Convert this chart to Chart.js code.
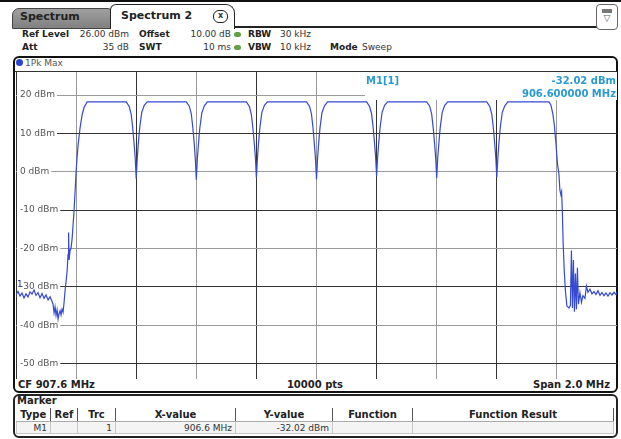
<!DOCTYPE html>
<html>
<head>
<meta charset="utf-8">
<script src="https://cdn.jsdelivr.net/npm/chart.js@4.4.1/dist/chart.umd.min.js"></script>
<style>
  body { margin: 0; width: 621px; height: 439px; overflow: hidden; background: #fff; position: relative;
         font-family: "DejaVu Sans", sans-serif; font-size: 9px; color: #333; }
  .t { position: absolute; white-space: nowrap; line-height: 12px; transform: translateY(-50%); }
  .b { font-weight: bold; color: #222; }
  .r { text-align: right; }
  .box { position: absolute; box-sizing: border-box; }
  .dot { position: absolute; width: 7px; height: 5px; border-radius: 3px; background: #62a040; }
  table { position: absolute; border-collapse: collapse; table-layout: fixed; font-size: 9px; }
  th { height: 13px; padding: 0 3px; font-size: 10px; color: #222; border-right: 1px solid #555; border-bottom: 1px solid #aaa; }
  td { height: 11px; padding: 0 3px; color: #333; text-align: right; background: #f4f4f4; border: 1px solid #c8c8c8; }
</style>
</head>
<body>

<!-- Tab bar -->
<div class="box" style="left:0;top:0;width:621px;height:2px;background:#111"></div>
<div class="box" style="left:12px;top:8px;width:100px;height:21px;background:linear-gradient(#a0a0a0,#808080);border:1px solid #444;border-radius:7px 4px 0 0"></div>
<div class="t b" style="left:20px;top:17px;font-size:11px">Spectrum</div>
<div class="box" style="left:110px;top:4px;width:125px;height:25px;background:#fff;border:1.5px solid #222;border-bottom:none;border-radius:6px 9px 0 0"></div>
<div class="t b" style="left:121px;top:16px;font-size:11px">Spectrum 2</div>
<div class="box" style="left:213px;top:10px;width:15px;height:13px;border:1.5px solid #222;border-radius:6px;font-size:8px;font-weight:bold;text-align:center;line-height:10px">x</div>
<div class="box" style="left:235px;top:26px;width:362px;height:2px;background:#222"></div>
<div class="box" style="left:596px;top:4px;width:22px;height:26px;border:1px solid #666;border-radius:4px;text-align:center;font-size:9px;line-height:11px;color:#555">
  <div style="margin:4px auto 0;width:10px;height:4px;background:#777"></div>&#9661;</div>

<!-- Setting lines -->
<div class="t b" style="left:22px;top:34px">Ref Level</div>
<div class="t r" style="right:492px;top:34px">26.00 dBm</div>
<div class="t b" style="left:22px;top:47px">Att</div>
<div class="t r" style="right:492px;top:47px">35 dB</div>
<div class="t b" style="left:139px;top:34px">Offset</div>
<div class="t r" style="right:390px;top:34px">10.00 dB</div>
<div class="t b" style="left:139px;top:47px">SWT</div>
<div class="t r" style="right:390px;top:47px">10 ms</div>
<div class="dot" style="left:234px;top:32px"></div>
<div class="dot" style="left:234px;top:45px"></div>
<div class="t b" style="left:248px;top:34px">RBW</div>
<div class="t" style="left:280px;top:34px">30 kHz</div>
<div class="t b" style="left:248px;top:47px">VBW</div>
<div class="t" style="left:280px;top:47px">10 kHz</div>
<div class="t b" style="left:330px;top:47px">Mode</div>
<div class="t" style="left:362px;top:47px">Sweep</div>

<!-- Diagram frame -->
<div class="box" style="left:13px;top:56px;width:605px;height:337px;border:2px solid #111;border-radius:6px"></div>
<div class="box" style="left:16px;top:59px;width:7px;height:7px;border-radius:50%;background:#2a44d0"></div>
<div class="t" style="left:25px;top:63px;color:#555">1Pk Max</div>
<div class="box" style="left:15px;top:71px;width:602px;height:1px;background:#333"></div>

<div class="box" style="left:16px;top:72px;width:601px;height:307px">
  <canvas id="trace"></canvas>
</div>

<!-- Marker readout -->
<div class="t b" style="left:366px;top:81px;font-size:10px;color:#2b9ad2">M1[1]</div>
<div class="t b r" style="right:5px;top:81px;font-size:10px;color:#2b9ad2">-32.02 dBm</div>
<div class="t b r" style="right:5px;top:94px;font-size:10px;color:#2b9ad2">906.600000 MHz</div>

<!-- Footer of the diagram -->
<div class="t b" style="left:18px;top:385px;font-size:10px">CF 907.6 MHz</div>
<div class="t b" style="left:315px;top:385px;font-size:10px;transform:translate(-50%,-50%)">10000 pts</div>
<div class="t b r" style="right:11px;top:385px;font-size:10px">Span 2.0 MHz</div>

<!-- Marker table -->
<div class="box" style="left:13px;top:394px;width:605px;height:44px;border:2px solid #222;border-radius:6px"></div>
<div class="t b" style="left:17px;top:401px;font-size:10px">Marker</div>
<table style="left:16px;top:408px;width:597px">
  <colgroup><col style="width:34px"><col style="width:27px"><col style="width:38px"><col style="width:120px"><col style="width:97px"><col style="width:80px"><col style="width:201px"></colgroup>
  <tr><th>Type</th><th>Ref</th><th>Trc</th><th>X-value</th><th>Y-value</th><th>Function</th><th>Function Result</th></tr>
  <tr><td>M1</td><td></td><td>1</td><td>906.6 MHz</td><td>-32.02 dBm</td><td></td><td></td></tr>
</table>

<script>
// Trace data (frequency in MHz, level in dBm)

// Noise floor and rising skirt left of the first channel
const leftFreq = [
  906.6000, 906.6067, 906.6133, 906.6200, 906.6267, 906.6333, 906.6400, 906.6467, 906.6533, 906.6600,
  906.6667, 906.6733, 906.6800, 906.6867, 906.6933, 906.7000, 906.7067, 906.7133, 906.7200, 906.7233,
  906.7267, 906.7300, 906.7333, 906.7367, 906.7400, 906.7433, 906.7467, 906.7500, 906.7533, 906.7567,
  906.7600, 906.7633, 906.7667, 906.7700, 906.7733, 906.7750, 906.7767, 906.7800, 906.7833, 906.7867,
  906.7900, 906.7933, 906.7967, 906.8000, 906.8033, 906.8067, 906.8133, 906.8200, 906.8267, 906.8367,
];
const leftLevel = [
  -32.0, -31.2, -32.4, -31.6, -32.9, -31.8, -32.6, -31.3, -31.9, -30.8,
  -32.2, -31.5, -32.8, -31.7, -33.0, -32.1, -33.4, -32.6, -33.8, -34.5,
  -36.8, -35.2, -37.4, -36.0, -38.4, -37.0, -36.2, -37.3, -35.8, -36.6,
  -34.0, -31.0, -28.5, -26.0, -21.5, -15.8, -23.0, -20.5, -19.8, -17.5,
  -13.8, -10.0, -5.0, 0.0, 3.8, 7.0, 11.5, 14.8, 16.8, 18.2,
];

// The seven notches between the eight 200 kHz channels (flat tops joined between them)
const notchFreq = [
  906.9667, 906.9767, 906.9833, 906.9883, 906.9933, 906.9967, 907.0000, 907.0033, 907.0067, 907.0117, 907.0183, 907.0267, 907.0367,
  907.1667, 907.1767, 907.1833, 907.1883, 907.1933, 907.1967, 907.2000, 907.2033, 907.2067, 907.2117, 907.2183, 907.2267, 907.2367,
  907.3667, 907.3767, 907.3833, 907.3883, 907.3933, 907.3967, 907.4000, 907.4033, 907.4067, 907.4117, 907.4183, 907.4267, 907.4367,
  907.5667, 907.5767, 907.5833, 907.5883, 907.5933, 907.5967, 907.6000, 907.6033, 907.6067, 907.6117, 907.6183, 907.6267, 907.6367,
  907.7667, 907.7767, 907.7833, 907.7883, 907.7933, 907.7967, 907.8000, 907.8033, 907.8067, 907.8117, 907.8183, 907.8267, 907.8367,
  907.9667, 907.9767, 907.9833, 907.9883, 907.9933, 907.9967, 908.0000, 908.0033, 908.0067, 908.0117, 908.0183, 908.0267, 908.0367,
  908.1667, 908.1767, 908.1833, 908.1883, 908.1933, 908.1967, 908.2000, 908.2033, 908.2067, 908.2117, 908.2183, 908.2267, 908.2367,
];
const notchLevel = [
  18.2, 17.0, 15.0, 11.5, 7.0, 3.5, -1.8, 3.2, 7.0, 11.5, 15.4, 17.3, 18.2,
  18.2, 17.1, 15.1, 11.6, 7.2, 3.4, -2.1, 3.0, 6.8, 11.4, 15.3, 17.2, 18.2,
  18.2, 17.0, 14.9, 11.4, 7.1, 3.6, -1.7, 3.3, 7.1, 11.6, 15.5, 17.3, 18.2,
  18.2, 17.1, 15.0, 11.5, 6.9, 3.3, -2.0, 3.1, 6.9, 11.5, 15.4, 17.2, 18.2,
  18.2, 17.0, 15.1, 11.7, 7.3, 3.8, -1.1, 3.6, 7.2, 11.6, 15.5, 17.3, 18.2,
  18.2, 17.1, 15.0, 11.5, 7.0, 3.5, -1.6, 3.4, 7.0, 11.5, 15.4, 17.3, 18.2,
  18.2, 17.0, 15.0, 11.6, 7.1, 3.6, -1.5, 3.3, 7.1, 11.6, 15.5, 17.2, 18.2,
];

// Falling skirt and noise floor right of the last channel
const rightFreq = [
  908.3733, 908.3800, 908.3867, 908.3917, 908.3967, 908.4020, 908.4067, 908.4100, 908.4133, 908.4157,
  908.4177, 908.4210, 908.4243, 908.4283, 908.4333, 908.4400, 908.4450, 908.4483, 908.4517, 908.4550,
  908.4583, 908.4617, 908.4650, 908.4683, 908.4717, 908.4767, 908.4817, 908.4867, 908.4933, 908.4983,
  908.5033, 908.5100, 908.5167, 908.5233, 908.5300, 908.5367, 908.5433, 908.5500, 908.5567, 908.5633,
  908.5700, 908.5767, 908.5833, 908.5900, 908.5967, 908.6000,
];
const rightLevel = [
  18.2, 17.4, 15.0, 12.0, 7.5, 2.0, -0.5, -4.8, -6.0, -5.2,
  -9.5, -19.0, -25.5, -31.0, -35.0, -35.5, -34.8, -20.5, -35.5, -23.0,
  -36.5, -26.5, -35.8, -25.0, -34.5, -31.5, -34.0, -32.3, -33.0, -29.8,
  -31.4, -30.6, -31.8, -31.2, -32.0, -31.0, -32.2, -31.5, -32.3, -31.6,
  -32.4, -31.5, -32.1, -31.4, -32.0, -31.3,
];

// Axes
const yTicks = [-50, -40, -30, -20, -10, 0, 10, 20];                 // dBm grid lines with labels
const xGrid = [906.6, 906.8, 907.0, 907.2, 907.4, 907.6, 907.8, 908.0, 908.2, 908.4, 908.6];  // MHz divisions
const refLevel = 26;
const bottomLevel = -54;

// Marker M1
const markerFreq = 906.6;
const markerLevel = -32.02;

// Build the point list for the line dataset
const freqs = [...leftFreq, ...notchFreq, ...rightFreq];
const levels = [...leftLevel, ...notchLevel, ...rightLevel];
const tracePoints = freqs.map((f, i) => ({ x: f, y: levels[i] }));

// Draws the dBm labels over the grid and the blank corner behind the marker readout
const overlayPlugin = {
  id: 'overlay',
  beforeDatasetsDraw(chart) {
    const { ctx, chartArea: area, scales: { y } } = chart;
    ctx.save();

    /* Blank area behind the marker text (top right) */
    ctx.fillStyle = '#fff';
    ctx.fillRect(area.left + 349, area.top, area.right - area.left - 349, 28);

    /* Level labels */
    ctx.font = '9px "DejaVu Sans"';
    ctx.textBaseline = 'middle';
    yTicks.forEach((v) => {
      const py = y.getPixelForValue(v);
      const label = `${v} dBm`;
      const w = ctx.measureText(label).width;
      ctx.fillStyle = '#fff';
      ctx.fillRect(area.left + 1, py - 6, w + 5, 12);
      ctx.fillStyle = '#555';
      ctx.fillText(label, area.left + 4, py);
    });
    ctx.restore();
  },
  afterDatasetsDraw(chart) {
    const { ctx, scales: { x, y } } = chart;
    ctx.save();
    ctx.font = '9px "DejaVu Sans"';
    ctx.fillStyle = '#1f3a9a';
    ctx.textBaseline = 'middle';
    ctx.fillText('1', x.getPixelForValue(markerFreq) + 1, y.getPixelForValue(markerLevel) - 10);
    ctx.restore();
  },
};

new Chart(document.getElementById('trace'), {
  type: 'line',
  data: {
    datasets: [
      {
        data: tracePoints,
        borderColor: '#3549d2',
        borderWidth: 1.2,
        pointRadius: 0,
        tension: 0,
      },
    ],
  },
  options: {
    responsive: true,
    maintainAspectRatio: false,
    animation: false,
    layout: { padding: 0 },
    scales: {
      x: {
        type: 'linear',
        min: xGrid[0],
        max: xGrid[xGrid.length - 1],
        afterBuildTicks: (scale) => { scale.ticks = xGrid.map((v) => ({ value: v })); },
        ticks: { display: false },
        border: { display: false },
        grid: { drawTicks: false, color: (c) => (c.index % 2 ? '#9a9a9a' : '#333') },
      },
      y: {
        min: bottomLevel,
        max: refLevel,
        afterBuildTicks: (scale) => { scale.ticks = yTicks.map((v) => ({ value: v })); },
        ticks: { display: false },
        border: { display: false },
        grid: { drawTicks: false, color: (c) => (c.index % 2 ? '#9a9a9a' : '#333') },
      },
    },
    plugins: {
      legend: { display: false },
      tooltip: { enabled: false },
    },
  },
  plugins: [overlayPlugin],
});
</script>
</body>
</html>
